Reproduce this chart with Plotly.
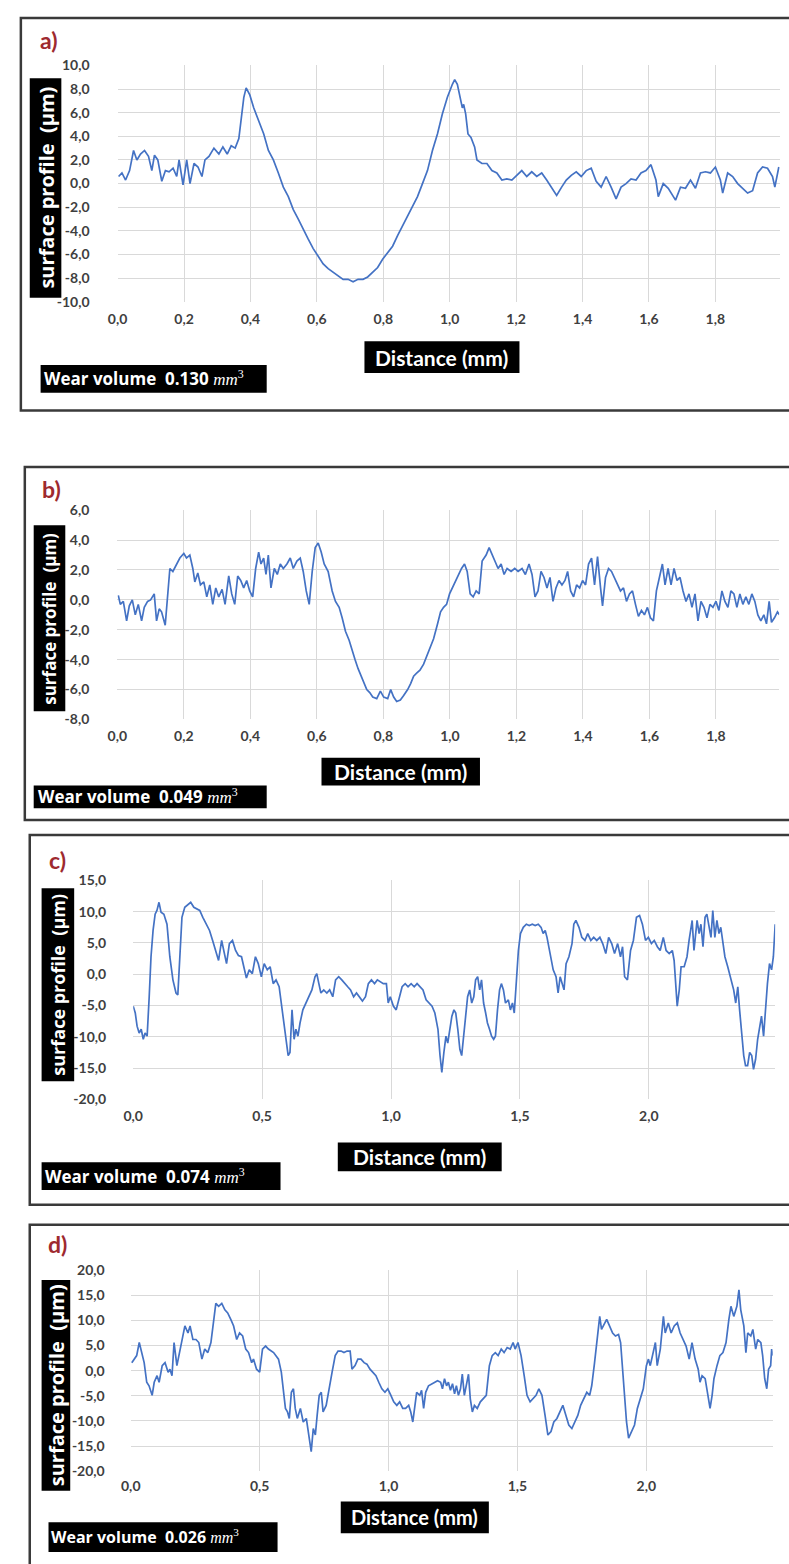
import plotly.graph_objects as go

W, H = 789, 1564

# ---------------- surface profiles: distance (mm) vs height (µm) ----------------
a_x = [
    0.003, 0.013, 0.024, 0.036, 0.048, 0.058, 0.069, 0.081, 0.093, 0.103,
    0.111, 0.121, 0.133, 0.144, 0.155, 0.167, 0.178, 0.185, 0.197, 0.208,
    0.218, 0.230, 0.242, 0.254, 0.263, 0.275, 0.290, 0.305, 0.317, 0.330,
    0.342, 0.354, 0.365, 0.372, 0.380, 0.387, 0.398, 0.410, 0.425, 0.440,
    0.454, 0.469, 0.484, 0.499, 0.514, 0.529, 0.544, 0.559, 0.574, 0.589,
    0.604, 0.619, 0.634, 0.649, 0.664, 0.679, 0.694, 0.709, 0.724, 0.739,
    0.753, 0.768, 0.783, 0.798, 0.813, 0.828, 0.843, 0.858, 0.873, 0.888,
    0.903, 0.918, 0.933, 0.948, 0.963, 0.978, 0.993, 1.008, 1.015, 1.023,
    1.030, 1.038, 1.042, 1.048, 1.055, 1.064, 1.075, 1.082, 1.097, 1.112,
    1.127, 1.142, 1.157, 1.172, 1.187, 1.202, 1.217, 1.232, 1.247, 1.262,
    1.277, 1.292, 1.307, 1.322, 1.337, 1.351, 1.366, 1.381, 1.396, 1.411,
    1.426, 1.441, 1.456, 1.471, 1.486, 1.501, 1.516, 1.531, 1.546, 1.561,
    1.576, 1.591, 1.606, 1.621, 1.628, 1.643, 1.658, 1.680, 1.695, 1.710,
    1.725, 1.740, 1.755, 1.770, 1.785, 1.800, 1.815, 1.822, 1.837, 1.852,
    1.867, 1.882, 1.897, 1.912, 1.927, 1.942, 1.957, 1.972, 1.979, 1.991,
]
a_y = [
    0.6, 0.9, 0.3, 1.1, 2.8, 2.0, 2.5, 2.8, 2.3, 1.1,
    2.4, 2.0, 0.2, 1.1, 1.0, 1.3, 0.6, 2.0, -0.1, 2.0,
    0.0, 1.7, 1.4, 0.6, 2.0, 2.3, 3.0, 2.5, 3.1, 2.5,
    3.2, 3.0, 3.8, 5.3, 7.3, 8.1, 7.5, 6.4, 5.3, 4.2,
    2.8, 2.0, 0.9, -0.3, -1.1, -2.2, -3.0, -3.9, -4.7, -5.5,
    -6.2, -6.8, -7.2, -7.5, -7.8, -8.1, -8.1, -8.3, -8.1, -8.1,
    -7.9, -7.5, -7.1, -6.4, -5.8, -5.3, -4.4, -3.6, -2.8, -1.9,
    -1.1, 0.0, 1.1, 2.8, 4.2, 5.9, 7.3, 8.4, 8.8, 8.4,
    7.5, 6.4, 6.7, 5.9, 4.2, 3.9, 3.1, 2.0, 1.7, 1.7,
    1.1, 0.9, 0.3, 0.4, 0.3, 0.7, 1.1, 0.6, 1.0, 0.6,
    0.9, 0.3, -0.3, -1.0, -0.3, 0.3, 0.7, 1.0, 0.6, 1.1,
    1.3, 0.2, -0.3, 0.6, -0.3, -1.3, -0.3, 0.0, 0.4, 0.3,
    0.9, 1.1, 1.6, 0.3, -1.1, 0.0, -0.4, -1.4, -0.3, -0.4,
    0.3, -0.4, 0.9, 1.0, 0.9, 1.4, 0.3, -0.8, 0.9, 0.6,
    0.0, -0.4, -0.8, -0.6, 0.9, 1.4, 1.3, 0.6, -0.3, 1.4,
]

b_x = [
    0.003, 0.009, 0.018, 0.028, 0.036, 0.045, 0.054, 0.063, 0.073, 0.081,
    0.091, 0.100, 0.111, 0.118, 0.126, 0.133, 0.144, 0.152, 0.158, 0.167,
    0.178, 0.188, 0.200, 0.208, 0.218, 0.227, 0.233, 0.242, 0.250, 0.260,
    0.269, 0.278, 0.287, 0.296, 0.305, 0.315, 0.324, 0.335, 0.344, 0.353,
    0.362, 0.371, 0.380, 0.389, 0.398, 0.407, 0.416, 0.425, 0.432, 0.440,
    0.447, 0.454, 0.462, 0.472, 0.481, 0.490, 0.499, 0.510, 0.520, 0.529,
    0.540, 0.550, 0.559, 0.568, 0.577, 0.586, 0.595, 0.604, 0.613, 0.622,
    0.634, 0.646, 0.656, 0.667, 0.676, 0.686, 0.697, 0.706, 0.715, 0.724,
    0.733, 0.742, 0.750, 0.759, 0.768, 0.780, 0.791, 0.801, 0.813, 0.822,
    0.831, 0.840, 0.851, 0.861, 0.873, 0.882, 0.891, 0.900, 0.910, 0.921,
    0.930, 0.940, 0.951, 0.963, 0.972, 0.981, 0.990, 0.999, 1.011, 1.023,
    1.035, 1.044, 1.052, 1.061, 1.070, 1.079, 1.088, 1.097, 1.109, 1.118,
    1.127, 1.136, 1.145, 1.154, 1.163, 1.172, 1.184, 1.195, 1.205, 1.217,
    1.227, 1.238, 1.247, 1.256, 1.265, 1.274, 1.283, 1.292, 1.301, 1.310,
    1.319, 1.328, 1.337, 1.346, 1.354, 1.363, 1.372, 1.381, 1.390, 1.399,
    1.408, 1.417, 1.426, 1.435, 1.444, 1.453, 1.459, 1.468, 1.477, 1.486,
    1.495, 1.504, 1.513, 1.522, 1.531, 1.540, 1.549, 1.558, 1.567, 1.576,
    1.585, 1.594, 1.603, 1.612, 1.621, 1.630, 1.639, 1.647, 1.656, 1.665,
    1.674, 1.683, 1.692, 1.701, 1.710, 1.719, 1.728, 1.737, 1.746, 1.755,
    1.764, 1.773, 1.782, 1.791, 1.800, 1.809, 1.818, 1.827, 1.836, 1.845,
    1.854, 1.863, 1.872, 1.881, 1.890, 1.899, 1.908, 1.917, 1.926, 1.935,
    1.944, 1.952, 1.960, 1.967, 1.976, 1.985, 1.991,
]
b_y = [
    0.3, -0.3, -0.1, -1.4, -0.4, 0.0, -1.0, -0.3, -1.4, -0.5,
    -0.1, 0.0, 0.4, -1.4, -0.6, -0.8, -1.7, 0.6, 2.1, 1.9,
    2.4, 2.8, 3.1, 2.8, 3.0, 2.1, 1.2, 1.8, 1.0, 1.2,
    0.2, 1.0, -0.3, 0.8, 0.2, 0.7, -0.3, 1.6, 0.4, -0.3,
    1.6, 1.3, 0.8, 1.3, 0.6, 0.2, 2.1, 3.2, 2.4, 2.8,
    1.7, 3.0, 0.8, 2.1, 1.7, 2.4, 2.1, 2.4, 2.8, 2.1,
    2.6, 2.8, 1.9, 0.6, -0.3, 1.9, 3.5, 3.8, 3.2, 2.4,
    1.9, 0.6, -0.1, -0.5, -1.2, -2.1, -2.7, -3.4, -4.0, -4.6,
    -5.1, -5.6, -6.0, -6.2, -6.5, -6.6, -6.1, -6.5, -6.6, -6.0,
    -6.5, -6.8, -6.7, -6.4, -6.0, -5.6, -5.1, -4.9, -4.7, -4.3,
    -3.8, -3.3, -2.6, -1.6, -0.8, -0.5, -0.3, 0.4, 1.0, 1.5,
    2.1, 2.4, 1.9, 0.4, 0.2, 0.6, 0.4, 2.6, 3.0, 3.5,
    3.0, 2.6, 2.1, 2.4, 1.7, 2.1, 1.9, 2.1, 1.9, 2.1,
    1.7, 2.4, 1.7, 0.2, 0.6, 1.9, 1.5, 0.8, 1.5, -0.1,
    0.8, 1.3, 1.0, 1.3, 1.9, 0.6, 0.2, 1.0, 0.8, 1.3,
    1.0, 2.4, 2.8, 1.0, 2.9, 0.8, -0.4, 1.5, 2.1, 1.9,
    1.5, 1.0, 0.6, 0.8, -0.1, 0.4, 0.6, -0.3, -1.1, -0.7,
    -1.0, -0.5, -1.2, -1.4, 0.6, 1.5, 2.4, 1.0, 2.1, 1.0,
    2.1, 1.3, 1.5, 0.6, -0.1, 0.4, -0.5, 0.4, -1.4, -0.1,
    -0.5, -1.2, -0.3, -0.5, -0.1, -0.7, 0.6, -0.1, -0.5, 0.6,
    0.4, -0.5, 0.4, -0.3, 0.2, -0.3, 0.4, -0.1, -1.0, -1.4,
    -1.0, -1.6, -0.1, -1.5, -1.2, -0.8, -1.0,
]

c_x = [
    0.000, 0.008, 0.015, 0.023, 0.031, 0.039, 0.046, 0.054, 0.062, 0.069,
    0.077, 0.085, 0.092, 0.100, 0.108, 0.119, 0.131, 0.142, 0.154, 0.166,
    0.173, 0.181, 0.189, 0.200, 0.212, 0.223, 0.235, 0.246, 0.258, 0.270,
    0.285, 0.296, 0.308, 0.320, 0.331, 0.343, 0.354, 0.362, 0.373, 0.385,
    0.397, 0.408, 0.420, 0.431, 0.439, 0.450, 0.462, 0.474, 0.485, 0.497,
    0.508, 0.520, 0.531, 0.543, 0.554, 0.566, 0.578, 0.585, 0.593, 0.601,
    0.608, 0.616, 0.624, 0.631, 0.639, 0.647, 0.658, 0.670, 0.681, 0.693,
    0.705, 0.712, 0.720, 0.728, 0.739, 0.751, 0.762, 0.774, 0.785, 0.797,
    0.809, 0.820, 0.832, 0.843, 0.855, 0.866, 0.878, 0.889, 0.901, 0.912,
    0.924, 0.936, 0.947, 0.959, 0.970, 0.982, 0.989, 0.997, 1.009, 1.020,
    1.032, 1.043, 1.055, 1.066, 1.078, 1.090, 1.101, 1.113, 1.124, 1.136,
    1.147, 1.159, 1.170, 1.182, 1.190, 1.197, 1.205, 1.213, 1.220, 1.228,
    1.236, 1.244, 1.251, 1.259, 1.267, 1.274, 1.282, 1.290, 1.297, 1.305,
    1.313, 1.321, 1.328, 1.336, 1.344, 1.351, 1.359, 1.367, 1.374, 1.382,
    1.390, 1.398, 1.405, 1.413, 1.421, 1.428, 1.436, 1.444, 1.455, 1.463,
    1.471, 1.478, 1.486, 1.494, 1.502, 1.513, 1.525, 1.536, 1.548, 1.559,
    1.571, 1.582, 1.590, 1.598, 1.605, 1.617, 1.629, 1.640, 1.648, 1.656,
    1.663, 1.671, 1.679, 1.690, 1.702, 1.709, 1.717, 1.729, 1.740, 1.752,
    1.763, 1.775, 1.786, 1.798, 1.810, 1.821, 1.833, 1.844, 1.856, 1.867,
    1.879, 1.890, 1.898, 1.906, 1.917, 1.929, 1.940, 1.952, 1.964, 1.975,
    1.987, 1.998, 2.010, 2.021, 2.033, 2.044, 2.056, 2.067, 2.079, 2.091,
    2.098, 2.110, 2.118, 2.125, 2.137, 2.148, 2.156, 2.168, 2.175, 2.187,
    2.195, 2.202, 2.210, 2.218, 2.225, 2.233, 2.241, 2.248, 2.256, 2.264,
    2.272, 2.279, 2.287, 2.295, 2.306, 2.318, 2.329, 2.337, 2.345, 2.352,
    2.360, 2.368, 2.375, 2.383, 2.391, 2.399, 2.406, 2.414, 2.422, 2.429,
    2.437, 2.445, 2.452, 2.460, 2.468, 2.476, 2.483, 2.490,
]
c_y = [
    -5.1, -6.2, -8.3, -9.4, -8.8, -10.4, -9.4, -9.9, -3.6, 2.8,
    7.0, 9.6, 10.2, 11.5, 9.9, 9.6, 8.0, 2.8, -0.9, -3.0,
    -3.3, 2.8, 9.1, 10.7, 11.2, 11.5, 10.7, 10.4, 10.2, 9.1,
    8.0, 7.0, 5.4, 3.8, 2.2, 5.4, 3.3, 1.7, 4.9, 5.4,
    3.8, 3.0, 2.8, 0.7, -0.6, 0.7, 0.1, 2.8, 1.7, -0.4,
    1.7, 0.7, 1.2, -1.5, -0.9, -2.0, -5.7, -7.8, -10.4, -13.0,
    -12.5, -5.7, -10.4, -8.8, -9.9, -7.8, -5.7, -4.6, -3.6, -2.5,
    -0.4, 0.1, -1.5, -3.0, -2.5, -3.0, -2.5, -3.6, -0.9, -0.4,
    -0.9, -1.5, -2.0, -2.5, -3.6, -3.0, -3.6, -4.3, -3.6, -1.5,
    -0.9, -1.5, -0.9, -1.2, -1.5, -1.5, -4.6, -3.6, -5.1, -5.7,
    -3.6, -2.0, -1.5, -2.0, -1.5, -2.0, -1.5, -2.0, -2.5, -4.1,
    -4.6, -5.1, -6.2, -8.8, -13.0, -15.7, -12.5, -9.9, -11.0, -8.8,
    -6.7, -5.7, -6.2, -8.8, -12.0, -13.0, -9.9, -5.7, -3.6, -2.5,
    -4.6, -3.6, -0.9, -0.4, -2.5, -0.9, -4.6, -6.2, -7.8, -8.8,
    -9.9, -10.4, -9.9, -5.7, -2.5, -1.5, -2.5, -4.6, -4.1, -5.7,
    -4.6, -6.2, -0.9, 3.8, 6.5, 7.5, 8.0, 7.8, 8.0, 7.8,
    8.0, 7.5, 6.5, 7.0, 5.9, 3.3, 0.7, -0.4, -3.0, -0.4,
    -1.5, -2.5, 1.7, 2.8, 4.9, 8.0, 8.6, 7.5, 5.9, 5.4,
    6.5, 5.4, 5.9, 5.4, 5.9, 4.9, 3.3, 5.9, 4.9, 3.3,
    4.9, 2.8, 4.4, -0.4, -0.9, 3.8, 5.4, 9.1, 9.4, 8.0,
    5.4, 5.9, 4.9, 5.4, 4.4, 3.8, 5.9, 3.8, 3.3, 3.8,
    2.2, -5.1, -2.5, 1.2, 1.2, 2.8, 5.4, 8.6, 3.8, 8.6,
    6.5, 8.0, 4.4, 9.1, 9.6, 8.0, 5.9, 10.2, 5.9, 8.6,
    6.5, 7.5, 4.9, 2.8, 1.2, -0.9, -2.5, -4.6, -2.0, -5.7,
    -9.9, -13.0, -14.6, -14.6, -12.5, -13.0, -15.2, -13.6, -10.4, -8.8,
    -6.7, -9.9, -5.7, -1.5, 1.7, 0.7, 2.8, 8.0,
]

d_x = [
    0.004, 0.013, 0.023, 0.033, 0.042, 0.052, 0.062, 0.071, 0.083, 0.091,
    0.102, 0.110, 0.122, 0.133, 0.145, 0.152, 0.160, 0.168, 0.179, 0.191,
    0.203, 0.210, 0.222, 0.230, 0.241, 0.253, 0.264, 0.276, 0.287, 0.299,
    0.311, 0.322, 0.330, 0.341, 0.353, 0.365, 0.376, 0.388, 0.399, 0.411,
    0.422, 0.434, 0.446, 0.457, 0.469, 0.476, 0.488, 0.500, 0.511, 0.523,
    0.534, 0.554, 0.573, 0.584, 0.592, 0.600, 0.608, 0.615, 0.623, 0.631,
    0.638, 0.646, 0.658, 0.669, 0.681, 0.692, 0.700, 0.708, 0.716, 0.723,
    0.731, 0.739, 0.746, 0.758, 0.770, 0.781, 0.793, 0.804, 0.816, 0.827,
    0.839, 0.851, 0.858, 0.870, 0.881, 0.893, 0.905, 0.916, 0.928, 0.939,
    0.951, 0.962, 0.974, 0.986, 0.997, 1.009, 1.020, 1.032, 1.043, 1.055,
    1.066, 1.078, 1.086, 1.094, 1.101, 1.109, 1.121, 1.128, 1.136, 1.144,
    1.155, 1.167, 1.178, 1.190, 1.202, 1.209, 1.217, 1.225, 1.232, 1.240,
    1.248, 1.256, 1.263, 1.271, 1.279, 1.286, 1.294, 1.302, 1.310, 1.317,
    1.325, 1.333, 1.344, 1.356, 1.367, 1.379, 1.391, 1.402, 1.414, 1.425,
    1.437, 1.448, 1.460, 1.472, 1.483, 1.491, 1.502, 1.514, 1.526, 1.537,
    1.549, 1.560, 1.572, 1.583, 1.595, 1.607, 1.618, 1.630, 1.641, 1.653,
    1.664, 1.676, 1.688, 1.699, 1.711, 1.722, 1.734, 1.745, 1.757, 1.769,
    1.780, 1.788, 1.799, 1.811, 1.819, 1.826, 1.838, 1.846, 1.857, 1.869,
    1.880, 1.892, 1.900, 1.911, 1.923, 1.931, 1.942, 1.954, 1.965, 1.977,
    1.988, 2.000, 2.008, 2.015, 2.023, 2.035, 2.042, 2.054, 2.066, 2.073,
    2.085, 2.096, 2.108, 2.120, 2.131, 2.143, 2.154, 2.166, 2.177, 2.189,
    2.201, 2.208, 2.216, 2.228, 2.239, 2.247, 2.255, 2.262, 2.274, 2.285,
    2.297, 2.309, 2.320, 2.328, 2.339, 2.351, 2.359, 2.366, 2.378, 2.386,
    2.393, 2.405, 2.413, 2.424, 2.432, 2.444, 2.451, 2.459, 2.467, 2.474,
    2.482, 2.486, 2.490,
]
d_y = [
    1.6, 2.3, 3.0, 5.6, 3.6, 1.6, -2.3, -3.0, -4.9, -2.3,
    -1.0, -2.3, 1.0, 1.6, -0.3, 0.3, -1.0, 5.6, 1.0, 4.3,
    6.9, 8.9, 7.5, 8.9, 6.2, 6.2, 5.6, 2.3, 4.3, 3.6,
    5.6, 10.8, 13.4, 12.8, 13.4, 12.1, 11.5, 10.2, 8.9, 6.2,
    7.5, 6.9, 4.3, 3.6, 1.6, 2.3, 0.3, -0.3, 4.3, 4.9,
    4.3, 3.6, 2.3, -0.3, -3.6, -7.5, -8.2, -9.5, -4.3, -3.6,
    -7.5, -9.5, -7.5, -10.2, -9.5, -13.4, -16.1, -11.5, -12.8, -8.9,
    -4.9, -4.3, -8.2, -6.9, -3.0, -0.3, 3.0, 3.9, 3.9, 3.6,
    3.9, 3.9, 0.3, 1.0, 2.3, 2.3, 1.6, 1.3, 0.3, -0.3,
    -1.0, -2.3, -3.6, -4.3, -3.6, -4.9, -6.2, -6.9, -6.2, -7.5,
    -7.5, -6.9, -8.2, -10.2, -6.9, -4.3, -4.9, -3.9, -7.5, -4.3,
    -3.0, -2.6, -2.3, -2.0, -2.3, -3.6, -1.6, -3.0, -2.3, -3.9,
    -2.6, -4.6, -3.0, -4.9, -3.6, -0.7, -4.9, -3.0, -0.7, -5.6,
    -8.2, -6.9, -7.5, -6.2, -5.6, -4.9, 1.0, 3.0, 3.6, 3.0,
    4.3, 3.6, 4.6, 4.3, 5.6, 4.3, 5.6, 3.0, -1.0, -4.9,
    -6.2, -5.6, -4.9, -3.6, -4.9, -8.9, -12.8, -12.1, -10.2, -9.5,
    -8.2, -6.9, -8.9, -10.8, -11.5, -10.2, -8.9, -6.9, -5.6, -4.3,
    -4.9, -3.0, 1.6, 6.9, 10.8, 8.2, 9.5, 10.2, 8.9, 7.5,
    6.9, 7.2, 5.6, -2.3, -10.2, -13.4, -12.1, -10.8, -7.5, -5.6,
    -3.6, 1.0, 2.3, 1.0, 3.0, 5.6, 1.0, 4.3, 10.8, 7.5,
    9.5, 7.5, 8.9, 9.5, 7.5, 6.2, 4.9, 2.3, 5.6, 2.3,
    0.3, -2.3, -1.0, -1.6, -4.9, -7.5, -4.9, -1.6, 1.0, 3.0,
    3.6, 5.6, 10.2, 12.8, 10.8, 12.8, 16.1, 12.1, 8.9, 3.6,
    7.5, 6.9, 8.2, 4.3, 6.2, 5.6, 3.0, -1.6, -3.6, 0.3,
    1.0, 4.3, 3.0,
]

panel_tags = ["a)", "b)", "c)", "d)"]
wear_volumes = ["0.130", "0.049", "0.074", "0.026"]
x_ranges = [[0, 1.994], [0, 1.99], [0, 2.49], [0, 2.49]]
y_ranges = [[-10, 10], [-8, 6], [-20, 15], [-20, 20]]
x_steps = [0.2, 0.2, 0.5, 0.5]

# y tick positions and their printed labels (hyphen minus, decimal comma)
a_yticks = [-10, -8, -6, -4, -2, 0, 2, 4, 6, 8, 10]
a_ylabels = ["-10,0", "-8,0", "-6,0", "-4,0", "-2,0", "0,0", "2,0", "4,0", "6,0", "8,0", "10,0"]
b_yticks = [-8, -6, -4, -2, 0, 2, 4, 6]
b_ylabels = ["-8,0", "-6,0", "-4,0", "-2,0", "0,0", "2,0", "4,0", "6,0"]
c_yticks = [-20, -15, -10, -5, 0, 5, 10, 15]
c_ylabels = ["-20,0", "-15,0", "-10,0", "-5,0", "0,0", "5,0", "10,0", "15,0"]
d_yticks = [-20, -15, -10, -5, 0, 5, 10, 15, 20]
d_ylabels = ["-20,0", "-15,0", "-10,0", "-5,0", "0,0", "5,0", "10,0", "15,0", "20,0"]

# ---------------- styling ----------------
LINE = "#4472C4"
GRID = "#d9d9d9"
TICK_FONT = dict(family="Lato", size=14, color="#3f3f3f", weight="bold")
TAG_COLOR = "#9e2a2f"
NBSP = "\u00a0"

# page geometry of each panel, in pixels (left, top, right, bottom)
layout_px = [
    dict(plot=(109, 57, 779.7, 296), frame=(11, 9, 812, 406), tag=(40, 31),
         ybox=(20, 70, 52, 292), yfont=20, dbox=(359, 336, 516, 368), dfont=21,
         wbox=(31, 360, 260, 388), wx=32, wfont=17, ystand=27, xstand=7),
    dict(plot=(108.7, 506.7, 779, 718.3), frame=(15, 463, 812, 820), tag=(42, 485),
         ybox=(24, 522, 56, 710), yfont=17, dbox=(315.5, 757, 476, 785), dfont=21,
         wbox=(24, 785, 260, 808), wx=26, wfont=17, ystand=27, xstand=7),
    dict(plot=(124.8, 881, 775, 1102.3), frame=(20, 835, 812, 1209), tag=(48, 860),
         ybox=(32, 889, 65, 1084), yfont=18, dbox=(332, 1146, 498, 1175), dfont=21,
         wbox=(32, 1166, 274, 1194), wx=33, wfont=17, ystand=26, xstand=7),
    dict(plot=(122.3, 1275, 772.5, 1478.3), frame=(20, 1229, 812, 1600), tag=(48, 1249),
         ybox=(32, 1285, 61, 1498), yfont=20, dbox=(335, 1509, 485, 1541), dfont=20,
         wbox=(39, 1530, 271, 1560), wx=39, wfont=16, ystand=25, xstand=5),
]
y_ticks = [(a_yticks, a_ylabels), (b_yticks, b_ylabels), (c_yticks, c_ylabels), (d_yticks, d_ylabels)]


def fx(p):
    return p / W


def fy(p):
    return 1 - p / H


fig = go.Figure()
shapes = []
annotations = []
series = [(a_x, a_y), (b_x, b_y), (c_x, c_y), (d_x, d_y)]
unit = ("<span style='font-family:Liberation Serif;font-weight:normal'>"
        "<i>mm</i><sup>3</sup></span>")

for i, ((xs, ys), cfg) in enumerate(zip(series, layout_px)):
    n = "" if i == 0 else str(i + 1)
    xa, ya = "x" + n, "y" + n
    fig.add_trace(go.Scatter(
        x=xs, y=ys, mode="lines", line=dict(color=LINE, width=1.7),
        xaxis=xa, yaxis=ya, showlegend=False, hoverinfo="skip",
    ))
    l, t, r, b = cfg["plot"]
    common = dict(showgrid=True, gridcolor=GRID, gridwidth=1, zeroline=False,
                  showline=False, ticks="", tickfont=TICK_FONT)
    fig.layout["xaxis" + n] = dict(domain=[fx(l), fx(r)], range=x_ranges[i],
                                   dtick=x_steps[i], tick0=0, tickformat=".1f", anchor=ya,
                                   ticklabelstandoff=cfg["xstand"], **common)
    tv, tt = y_ticks[i]
    fig.layout["yaxis" + n] = dict(domain=[fy(b), fy(t)], range=y_ranges[i],
                                   tickmode="array", tickvals=tv, ticktext=tt, anchor=xa,
                                   ticklabelstandoff=cfg["ystand"], **common)

    # panel frame
    fl, ft, fr, fb = cfg["frame"]
    shapes.append(dict(type="rect", xref="paper", yref="paper",
                       x0=fx(fl), x1=fx(fr), y0=fy(fb), y1=fy(ft),
                       line=dict(color="#3a3a3a", width=2.5), fillcolor="rgba(0,0,0,0)",
                       layer="below"))

    # black label boxes
    for key in ("ybox", "dbox", "wbox"):
        bl, bt, br, bb = cfg[key]
        shapes.append(dict(type="rect", xref="paper", yref="paper",
                           x0=fx(bl), x1=fx(br), y0=fy(bb), y1=fy(bt),
                           line=dict(width=0), fillcolor="black"))

    # panel tag
    tx, ty = cfg["tag"]
    annotations.append(dict(text=panel_tags[i], xref="paper", yref="paper",
                            x=fx(tx), y=fy(ty), xanchor="center", yanchor="middle",
                            showarrow=False,
                            font=dict(family="Lato", size=23, color=TAG_COLOR, weight="bold")))

    # y-axis title (rotated, white on black)
    bl, bt, br, bb = cfg["ybox"]
    annotations.append(dict(text=f"surface profile{NBSP} (µm)", xref="paper", yref="paper",
                            x=fx((bl + br) / 2), y=fy((bt + bb) / 2),
                            xanchor="center", yanchor="middle", textangle=-90,
                            showarrow=False,
                            font=dict(family="Open Sans", size=cfg["yfont"],
                                      color="white", weight="bold")))

    # x-axis title
    bl, bt, br, bb = cfg["dbox"]
    annotations.append(dict(text="Distance (mm)", xref="paper", yref="paper",
                            x=fx((bl + br) / 2), y=fy((bt + bb) / 2),
                            xanchor="center", yanchor="middle", showarrow=False,
                            font=dict(family="Lato", size=cfg["dfont"],
                                      color="white", weight="bold")))

    # wear volume note
    bl, bt, br, bb = cfg["wbox"]
    annotations.append(dict(text=f"Wear volume{NBSP} {wear_volumes[i]} {unit}",
                            xref="paper", yref="paper",
                            x=fx(cfg["wx"]), y=fy((bt + bb) / 2),
                            xanchor="left", yanchor="middle", showarrow=False,
                            font=dict(family="Open Sans", size=cfg["wfont"],
                                      color="white", weight="bold")))

fig.update_layout(
    width=W, height=H,
    margin=dict(l=0, r=0, t=0, b=0),
    paper_bgcolor="white", plot_bgcolor="white",
    separators=", ",
    shapes=shapes, annotations=annotations,
    showlegend=False,
)

fig.write_html("out.html")
